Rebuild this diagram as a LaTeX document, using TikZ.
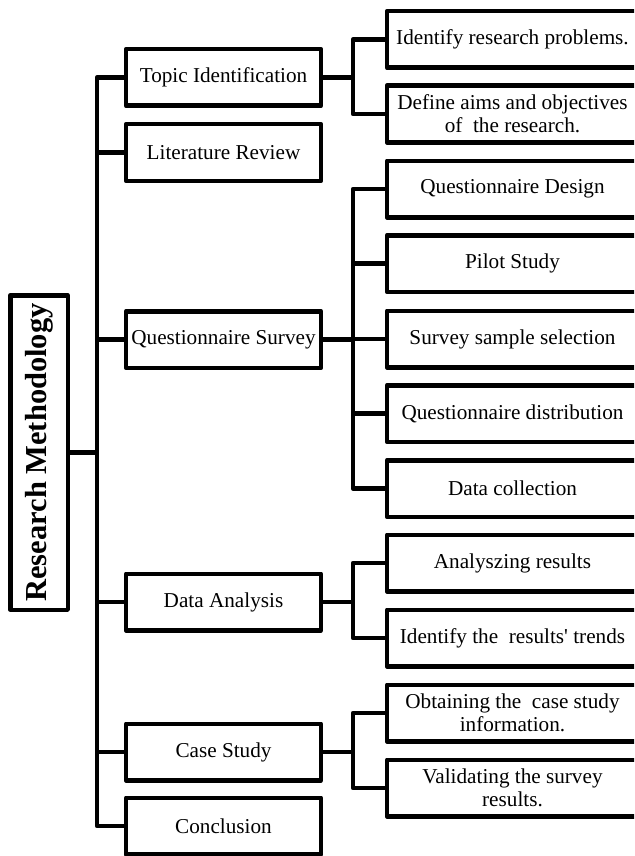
\documentclass[tikz,border=0pt]{standalone}
\usepackage{fontspec}
\setmainfont{Liberation Serif}
\begin{document}
\begin{tikzpicture}[x=1pt,y=-1pt,line width=4.5pt,line join=round,
  box/.style={draw,rectangle,line width=4.5pt,inner sep=0pt,align=center,
    font=\fontsize{21.2}{23}\selectfont},
  midbox/.style={box,minimum width=195pt,minimum height=56.5pt},
  subbox/.style={box,minimum width=251pt,minimum height=56.5pt},
  rootbox/.style={draw,rectangle,line width=4.5pt,inner sep=0pt,rotate=90,
    minimum width=314.5pt,minimum height=57.5pt,
    font=\fontsize{30.5}{32}\selectfont\bfseries}]
\useasboundingbox (0,0) rectangle (634,856);
\clip (0,0) rectangle (634,856);
\coordinate (tx) at (97,0);
\coordinate (sx) at (353,0);
% root
\node[rootbox] (rm) at (39,452.5) {Research Methodology};
% middle column
\node[midbox] (topic) at (223.5,77.5) {Topic Identification};
\node[midbox] (lit) at (223.5,152.5) {Literature Review};
\node[midbox] (qs) at (223.5,339.5) {Questionnaire Survey};
\node[midbox] (da) at (223.5,602) {Data Analysis};
\node[midbox] (cs) at (223.5,752) {Case Study};
\node[midbox] (conc) at (223.5,826) {Conclusion};
% right column
\node[subbox] (irp) at (512.5,39.5) {Identify research problems.};
\node[subbox] (def) at (512.5,114) {Define aims and objectives\\of\ \ the research.};
\node[subbox] (qd) at (512.5,189) {Questionnaire Design};
\node[subbox] (ps) at (512.5,263.5) {Pilot Study};
\node[subbox] (sss) at (512.5,339) {Survey sample selection};
\node[subbox] (qdist) at (512.5,413.5) {Questionnaire distribution};
\node[subbox] (dc) at (512.5,488.5) {Data collection};
\node[subbox] (ar) at (512.5,563) {Analyszing results};
\node[subbox] (it) at (512.5,638) {Identify the\ \ results\textquotesingle{} trends};
\node[subbox] (obt) at (512.5,713) {Obtaining the\ \ case study\\information.};
\node[subbox] (val) at (512.5,788) {Validating the survey\\results.};
% main trunk
\draw (rm.south) -- (rm.south -| tx);
\draw (topic.west) -- (topic.west -| tx) |- (conc.west);
\foreach \n in {lit,qs,da,cs} \draw (\n.west) -- (\n.west -| tx);
% sub trunks
\draw (topic.east) -- (topic.east -| sx);
\draw (irp.west) -- (irp.west -| sx) |- (def.west);
\draw (qs.east) -- (qs.east -| sx);
\draw (qd.west) -- (qd.west -| sx) |- (dc.west);
\foreach \n in {ps,sss,qdist} \draw (\n.west) -- (\n.west -| sx);
\draw (da.east) -- (da.east -| sx);
\draw (ar.west) -- (ar.west -| sx) |- (it.west);
\draw (cs.east) -- (cs.east -| sx);
\draw (obt.west) -- (obt.west -| sx) |- (val.west);
\end{tikzpicture}
\end{document}
